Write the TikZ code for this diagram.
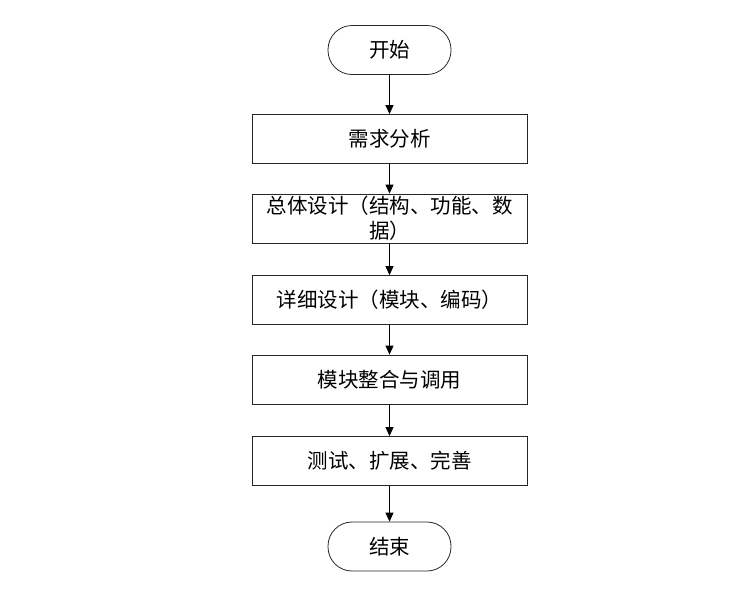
\documentclass[tikz,border=0pt]{standalone}
\usepackage{fontspec}
\newfontfamily\cjk{Noto Sans CJK SC}
\usetikzlibrary{arrows.meta}
\begin{document}
\begin{tikzpicture}[x=1pt,y=-1pt,
  every node/.style={font=\cjk\fontsize{20.5}{25}\selectfont, text=black},
  stepbox/.style={draw=black!85, line width=0.8pt, minimum width=275pt, minimum height=49pt, inner sep=0pt, align=center},
  termbox/.style={draw=black!85, line width=0.8pt, minimum width=123pt, minimum height=49pt, rounded corners=24pt, inner sep=0pt},
  flow/.style={draw=black, line width=0.8pt, -{Triangle[length=9pt,width=8pt]}}]
\useasboundingbox (0,0) rectangle (755,590);
\node[termbox] (start) at (389.5,50) {开始};
\node[stepbox] (b1) at (389.5,139) {需求分析};
\node[stepbox] (b2) at (389.5,218.5) {\raisebox{3pt}{\parbox{272pt}{\centering 总体设计（结构、功能、数\\据）}}};
\node[stepbox] (b3) at (389.5,300) {详细设计（模块、编码）};
\node[stepbox] (b4) at (389.5,379.5) {模块整合与调用};
\node[stepbox] (b5) at (389.5,461) {测试、扩展、完善};
\node[termbox] (end) at (389.5,546.5) {结束};
\draw[flow] (start) -- (b1);
\draw[flow] (b1) -- (b2);
\draw[flow] (b2) -- (b3);
\draw[flow] (b3) -- (b4);
\draw[flow] (b4) -- (b5);
\draw[flow] (b5) -- (end);
\end{tikzpicture}
\end{document}
